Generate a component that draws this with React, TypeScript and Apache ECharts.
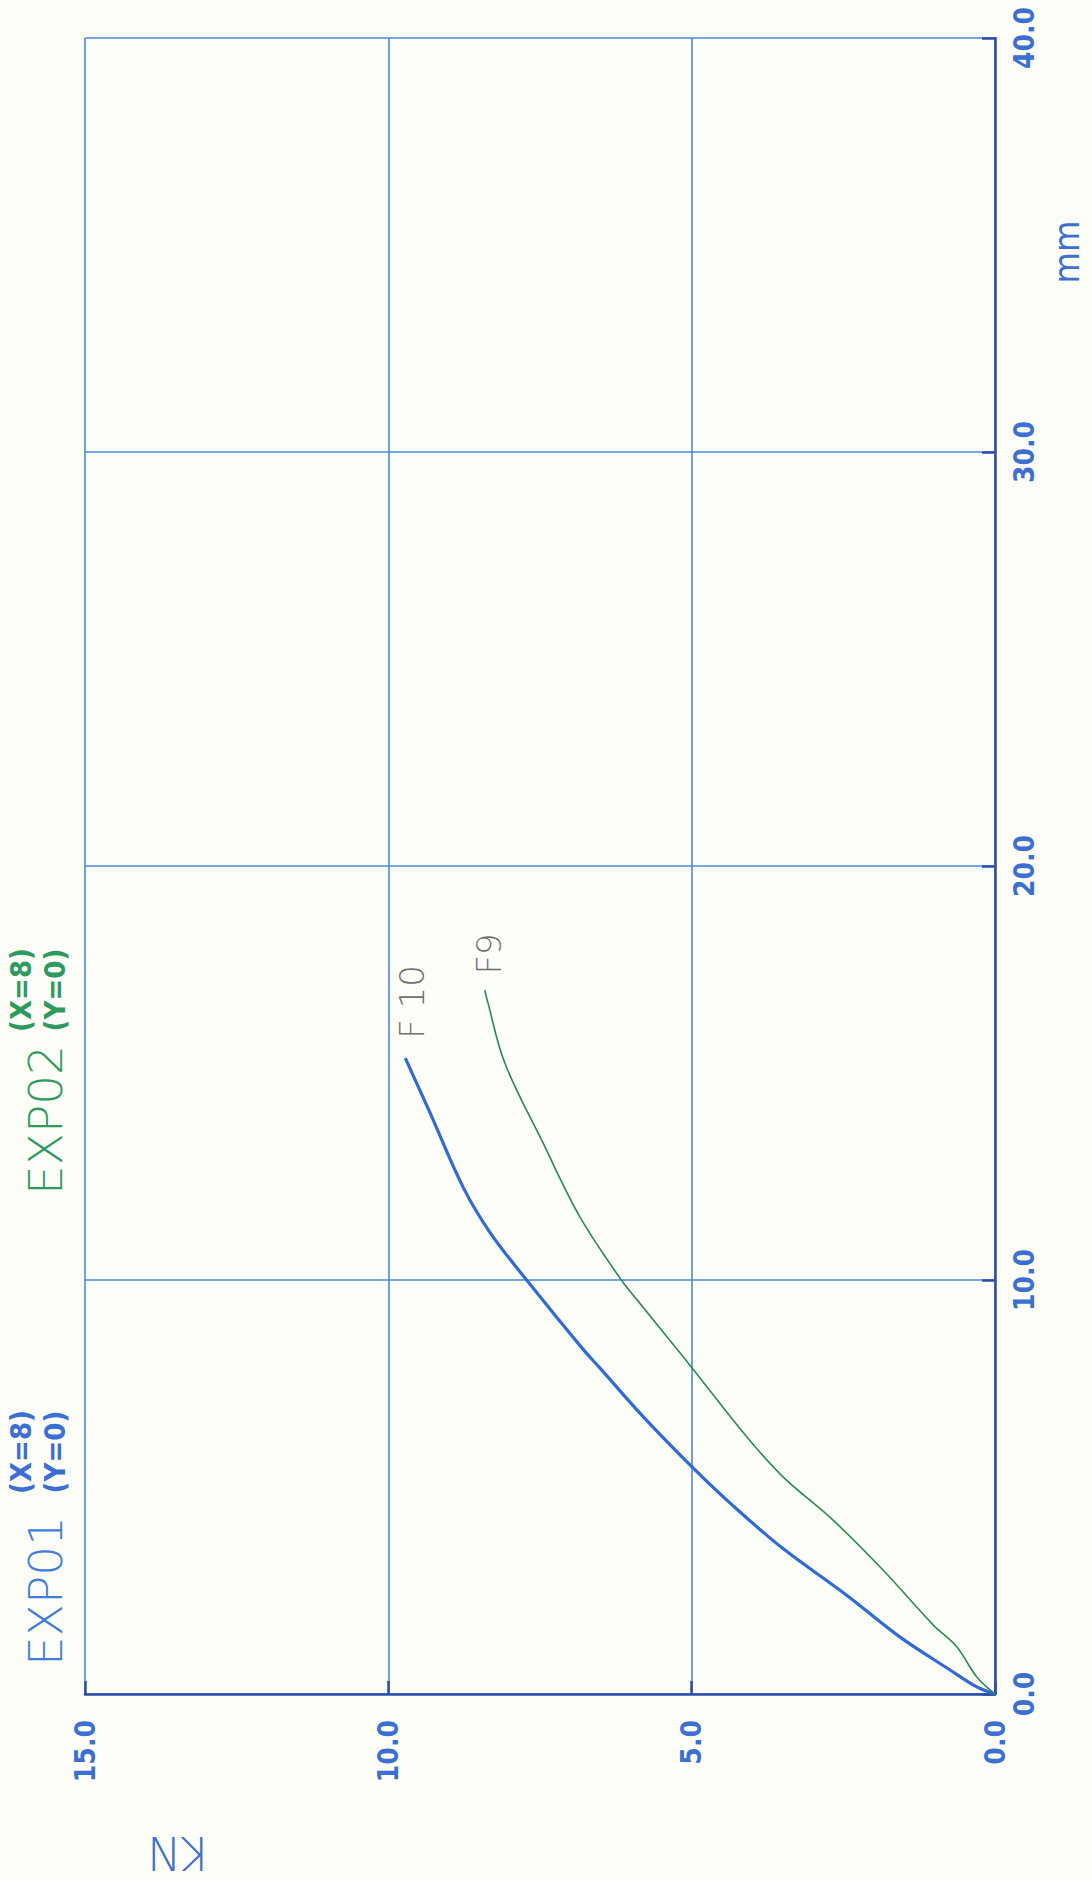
import React, { useEffect, useRef } from "react";
import * as echarts from "echarts";

// Force (kN) on the horizontal axis, running from 15 at the left to 0 at the right;
// displacement (mm) on the vertical axis, 0 at the bottom to 40 at the top.
const KN_TICKS = [0, 5, 10, 15];
const MM_TICKS = [0, 10, 20, 30, 40];

// EXP01 – specimen F10
const F10_KN = [0, 0.3, 0.74, 1.57, 2.44, 3.51, 4.32, 4.99, 5.8, 6.51, 6.81, 7.71, 8.32, 8.77, 9.31, 9.72];
const F10_MM = [0, 0.17, 0.58, 1.38, 2.38, 3.53, 4.55, 5.48, 6.7, 7.87, 8.36, 9.98, 11.14, 12.25, 14.03, 15.36];

// EXP02 – specimen F9
const F9_KN = [0, 0.3, 0.63, 1.02, 1.85, 2.67, 3.49, 4.09, 4.99, 5.27, 5.9, 6.15, 6.84, 7.45, 8.08, 8.37, 8.41];
const F9_MM = [0, 0.41, 1.14, 1.67, 3.0, 4.2, 5.24, 6.21, 7.87, 8.38, 9.52, 9.98, 11.52, 13.31, 15.24, 16.76, 17.0];

const GRID_BLUE = "#4a88de";
const AXIS_BLUE = "#2c4cab";
const LABEL_BLUE = "#3c6fd2";
const EXP01_BLUE = "#3f7fda";
const EXP02_GREEN = "#2f9a5e";
const PENCIL = "#707070";
const NARROW = "'DejaVu Sans Condensed', 'DejaVu Sans', sans-serif";

const zip = (a: number[], b: number[]) => a.map((v, i) => [v, b[i]]);

export default function App() {
  const ref = useRef<HTMLDivElement>(null);

  useEffect(() => {
    if (!ref.current) return;
    const chart = echarts.init(ref.current, undefined, { renderer: "svg" });
    const up = Math.PI / 2;

    const tickLabel = (margin: number) => ({
      rotate: 90,
      margin,
      color: LABEL_BLUE,
      fontFamily: NARROW,
      fontWeight: "bold",
      fontSize: 28,
      formatter: (v: number) => v.toFixed(1),
    });

    chart.setOption({
      animation: false,
      backgroundColor: "#fefef9",
      grid: { left: 85, right: 97, top: 38, bottom: 187, containLabel: false, outerBoundsMode: "none" },
      xAxis: {
        type: "value",
        inverse: true,
        min: KN_TICKS[0],
        max: KN_TICKS[KN_TICKS.length - 1],
        interval: 5,
        position: "bottom",
        axisLine: { show: true, lineStyle: { color: AXIS_BLUE, width: 2.5 } },
        axisTick: { show: true, inside: true, length: 13, lineStyle: { color: AXIS_BLUE, width: 2.5 } },
        splitLine: { show: true, lineStyle: { color: GRID_BLUE, width: 1.6 } },
        axisLabel: tickLabel(26),
      },
      yAxis: {
        type: "value",
        min: MM_TICKS[0],
        max: MM_TICKS[MM_TICKS.length - 1],
        interval: 10,
        position: "right",
        axisLine: { show: true, lineStyle: { color: AXIS_BLUE, width: 2.5 } },
        axisTick: { show: true, inside: true, length: 13, lineStyle: { color: AXIS_BLUE, width: 2.5 } },
        splitLine: { show: true, lineStyle: { color: GRID_BLUE, width: 1.6 } },
        axisLabel: tickLabel(15),
      },
      series: [
        {
          name: "EXP01",
          type: "line",
          data: zip(F10_KN, F10_MM),
          showSymbol: false,
          smooth: 0.35,
          lineStyle: { color: "#2f6ad6", width: 3.2 },
          z: 3,
        },
        {
          name: "EXP02",
          type: "line",
          data: zip(F9_KN, F9_MM),
          showSymbol: false,
          smooth: 0.35,
          lineStyle: { color: "#2a8a50", width: 1.6 },
          z: 3,
        },
      ],
      graphic: [
        {
          type: "text",
          x: 1066,
          y: 252,
          rotation: up,
          style: {
            text: "mm",
            fill: LABEL_BLUE,
            font: `36px ${NARROW}`,
            align: "center",
            verticalAlign: "middle",
          },
        },
        {
          type: "text",
          x: 178,
          y: 1853,
          rotation: Math.PI,
          style: {
            text: "KN",
            fill: LABEL_BLUE,
            font: "200 46px 'DejaVu Sans'",
            align: "center",
            verticalAlign: "middle",
          },
        },
        {
          type: "text",
          x: 45,
          y: 1591,
          rotation: up,
          style: {
            text: "EXP01",
            fill: EXP01_BLUE,
            font: "200 47px 'DejaVu Sans'",
            align: "center",
            verticalAlign: "middle",
          },
        },
        {
          type: "text",
          x: 38,
          y: 1452,
          rotation: up,
          style: {
            text: "(X=8)\n(Y=0)",
            fill: LABEL_BLUE,
            font: `bold 29px ${NARROW}`,
            lineHeight: 34,
            align: "center",
            verticalAlign: "middle",
          },
        },
        {
          type: "text",
          x: 45,
          y: 1120,
          rotation: up,
          style: {
            text: "EXP02",
            fill: EXP02_GREEN,
            font: "200 47px 'DejaVu Sans'",
            align: "center",
            verticalAlign: "middle",
          },
        },
        {
          type: "text",
          x: 38,
          y: 990,
          rotation: up,
          style: {
            text: "(X=8)\n(Y=0)",
            fill: EXP02_GREEN,
            font: `bold 29px ${NARROW}`,
            lineHeight: 34,
            align: "center",
            verticalAlign: "middle",
          },
        },
        {
          type: "text",
          x: 412,
          y: 1002,
          rotation: up,
          style: {
            text: "F 10",
            fill: PENCIL,
            font: "200 34px 'DejaVu Sans'",
            align: "center",
            verticalAlign: "middle",
          },
        },
        {
          type: "text",
          x: 489,
          y: 954,
          rotation: up,
          style: {
            text: "F9",
            fill: PENCIL,
            font: "200 34px 'DejaVu Sans'",
            align: "center",
            verticalAlign: "middle",
          },
        },
      ],
    });

    return () => chart.dispose();
  }, []);

  return (
    <div
      ref={ref}
      style={{ position: "absolute", left: 0, top: 0, width: 1092, height: 1881 }}
    />
  );
}
